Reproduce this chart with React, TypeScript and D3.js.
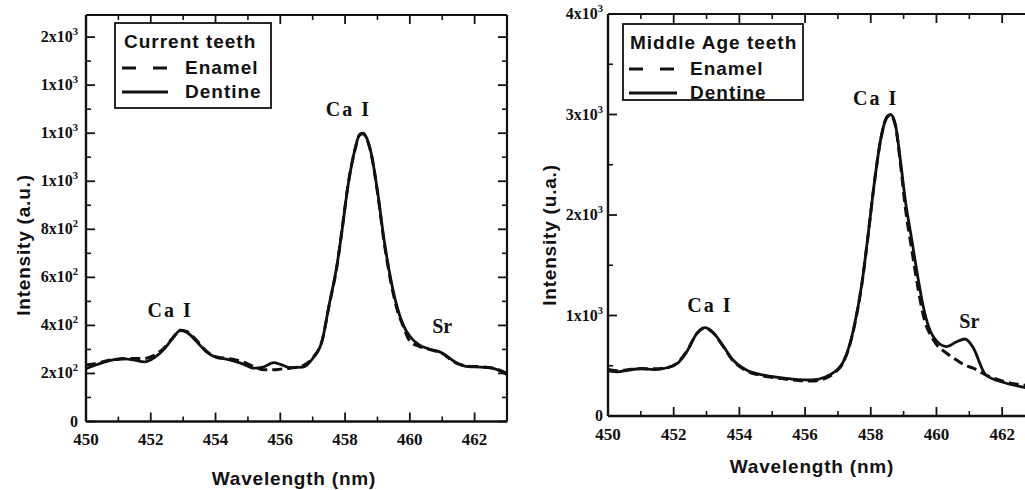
import React from "react";
import * as d3 from "d3";

// ---------- DATA ----------
// Left panel: Current teeth
const leftWl = [450.0, 450.3, 450.7, 451.1, 451.5, 451.8, 452.1, 452.4, 452.7, 452.9, 453.1, 453.4, 453.7, 454.0, 454.4, 454.8, 455.2, 455.5, 455.8, 456.0, 456.3, 456.7, 457.0, 457.3, 457.5, 457.75, 457.9, 458.1, 458.3, 458.45, 458.55, 458.65, 458.8, 459.0, 459.2, 459.4, 459.6, 459.8, 460.0, 460.3, 460.6, 461.0, 461.4, 461.8, 462.2, 462.6, 463.0];
const leftDentine = [220, 235, 252, 262, 255, 248, 265, 300, 350, 378, 372, 335, 292, 268, 258, 242, 222, 228, 245, 238, 224, 226, 262, 340, 480, 650, 790, 990, 1130, 1195, 1200, 1185, 1120, 960, 760, 600, 480, 400, 355, 318, 302, 285, 248, 228, 226, 220, 195];
const leftEnamel = [235, 240, 255, 260, 262, 262, 275, 305, 352, 380, 375, 340, 295, 270, 262, 250, 228, 215, 215, 218, 222, 232, 265, 342, 478, 648, 792, 992, 1128, 1192, 1198, 1182, 1118, 955, 752, 590, 470, 395, 335, 312, 300, 283, 245, 230, 228, 222, 200];

// Right panel: Middle Age teeth
const rightWl = [450.0, 450.3, 450.6, 451.0, 451.4, 451.8, 452.1, 452.4, 452.7, 452.95, 453.2, 453.5, 453.8, 454.2, 454.7, 455.3, 455.8, 456.2, 456.6, 456.9, 457.15, 457.35, 457.5, 457.73, 457.9, 458.1, 458.3, 458.5, 458.6, 458.75, 458.9, 459.05, 459.25, 459.45, 459.6, 459.9, 460.3, 460.6, 460.87, 461.1, 461.5, 462.1, 462.6, 463.0];
const rightDentine = [450, 440, 455, 470, 462, 480, 520, 640, 820, 880, 830, 700, 560, 460, 410, 380, 362, 358, 385, 440, 530, 700, 900, 1320, 1750, 2300, 2750, 2980, 3000, 2900, 2550, 2150, 1750, 1350, 1085, 790, 690, 736, 766, 690, 410, 328, 290, 265];
const rightEnamel = [462, 450, 460, 472, 470, 482, 525, 645, 818, 878, 828, 695, 552, 452, 400, 372, 352, 348, 372, 430, 525, 695, 895, 1315, 1745, 2295, 2745, 2975, 2995, 2890, 2520, 2080, 1650, 1250, 1000, 760, 627, 560, 505, 478, 408, 340, 310, 300];

// Axis ticks and labels
const xMajorTicks = [450, 452, 454, 456, 458, 460, 462];
const xMinorTicks = [451, 453, 455, 457, 459, 461, 463];
const leftYTicks = [0, 200, 400, 600, 800, 1000, 1200, 1400, 1600];
const leftYTickLabels = ["0", "2x10^2", "4x10^2", "6x10^2", "8x10^2", "1x10^3", "1x10^3", "1x10^3", "2x10^3"];
const leftYMinor = [100, 300, 500, 700, 900, 1100, 1300, 1500];
const rightYTicks = [0, 1000, 2000, 3000, 4000];
const rightYTickLabels = ["0", "1x10^3", "2x10^3", "3x10^3", "4x10^3"];
const rightYMinor = [500, 1500, 2500, 3500];

const legendTitles = ["Current teeth", "Middle Age teeth"];
const seriesNames = ["Enamel", "Dentine"];
const yTitles = ["Intensity (a.u.)", "Intensity (u.a.)"];
const xTitle = "Wavelength (nm)";

// peak annotations: [wavelength position, value position, text]
const leftPeakLabels: [number, number, string][] = [
  [452.6, 435, "Ca I"],
  [458.1, 1270, "Ca I"],
  [461.0, 370, "Sr"],
];
const rightPeakLabels: [number, number, string][] = [
  [453.1, 1030, "Ca I"],
  [458.15, 3090, "Ca I"],
  [461.0, 880, "Sr"],
];

const SERIF = "'Liberation Serif', 'Times New Roman', serif";
const SANS = "'Liberation Sans', Arial, Helvetica, sans-serif";

function TickLabel({ x, y, label, anchor, size, weight }: any) {
  const parts = label.split("^");
  return (
    <text x={x} y={y} textAnchor={anchor} fontFamily={SERIF} fontSize={size} fontWeight={weight} fill="#111">
      {parts[0]}
      {parts[1] ? (
        <tspan dy={-7} fontSize={size * 0.66}>
          {parts[1]}
        </tspan>
      ) : null}
    </text>
  );
}

function Panel(props: any) {
  const {
    id, x0, x1, yTop, yBot, yMax, wl, dentine, enamel, yTicks, yLabels, yMinor,
    legend, peaks, yTitle, yTitlePos, xTitlePos, xLabelBase, yLabelRight, showRight,
  } = props;
  const x = d3.scaleLinear().domain([450, 463]).range([x0, x1]);
  const y = d3.scaleLinear().domain([0, yMax]).range([yBot, yTop]);
  const line = d3
    .line<[number, number]>()
    .x((d) => x(d[0]))
    .y((d) => y(d[1]))
    .curve(d3.curveMonotoneX);
  const dPath = line(wl.map((w: number, i: number) => [w, dentine[i]]) as any) || "";
  const ePath = line(wl.map((w: number, i: number) => [w, enamel[i]]) as any) || "";
  const MAJ = 9, MIN = 5;
  return (
    <g>
      <defs>
        <clipPath id={"clip" + id}>
          <rect x={x0} y={yTop} width={x1 - x0} height={yBot - yTop} />
        </clipPath>
      </defs>
      <g clipPath={`url(#clip${id})`}>
        <path d={ePath} fill="none" stroke="#111" strokeWidth={3} strokeDasharray="10,5" />
        <path d={dPath} fill="none" stroke="#111" strokeWidth={2.8} />
      </g>
      {/* frame */}
      <line x1={x0} x2={x1} y1={yBot} y2={yBot} stroke="#111" strokeWidth={2.4} />
      <line x1={x0} x2={x1} y1={yTop} y2={yTop} stroke="#111" strokeWidth={2.2} />
      <line x1={x0} x2={x0} y1={yTop} y2={yBot} stroke="#111" strokeWidth={2.4} />
      {showRight && <line x1={x1} x2={x1} y1={yTop} y2={yBot} stroke="#111" strokeWidth={2.2} />}
      {/* x ticks */}
      {xMajorTicks.map((t) => (
        <g key={"xm" + t}>
          <line x1={x(t)} x2={x(t)} y1={yBot} y2={yBot - MAJ} stroke="#111" strokeWidth={1.8} />
          <line x1={x(t)} x2={x(t)} y1={yTop} y2={yTop + MAJ} stroke="#111" strokeWidth={1.8} />
          <TickLabel x={x(t)} y={xLabelBase} label={String(t)} anchor="middle" size={17} weight="bold" />
        </g>
      ))}
      {xMinorTicks.map((t) => (
        <g key={"xn" + t}>
          <line x1={x(t)} x2={x(t)} y1={yBot} y2={yBot - MIN} stroke="#111" strokeWidth={1.6} />
          <line x1={x(t)} x2={x(t)} y1={yTop} y2={yTop + MIN} stroke="#111" strokeWidth={1.6} />
        </g>
      ))}
      {/* y ticks */}
      {yTicks.map((t: number, i: number) => (
        <g key={"ym" + t}>
          <line x1={x0} x2={x0 + MAJ} y1={y(t)} y2={y(t)} stroke="#111" strokeWidth={1.8} />
          {showRight && <line x1={x1} x2={x1 - MAJ} y1={y(t)} y2={y(t)} stroke="#111" strokeWidth={1.8} />}
          <TickLabel x={yLabelRight} y={y(t) + 5} label={yLabels[i]} anchor="end" size={16} weight="bold" />
        </g>
      ))}
      {yMinor.map((t: number) => (
        <g key={"yn" + t}>
          <line x1={x0} x2={x0 + MIN} y1={y(t)} y2={y(t)} stroke="#111" strokeWidth={1.6} />
          {showRight && <line x1={x1} x2={x1 - MIN} y1={y(t)} y2={y(t)} stroke="#111" strokeWidth={1.6} />}
        </g>
      ))}
      {/* titles */}
      <text x={xTitlePos[0]} y={xTitlePos[1]} textAnchor="middle" fontFamily={SANS} fontWeight="bold" fontSize={19} letterSpacing={0.8} fill="#111">
        {xTitle}
      </text>
      <text
        transform={`translate(${yTitlePos[0]},${yTitlePos[1]}) rotate(-90)`}
        textAnchor="middle"
        fontFamily={SANS}
        fontWeight="bold"
        fontSize={19}
        letterSpacing={0.8}
        fill="#111"
      >
        {yTitle}
      </text>
      {/* peak labels */}
      {peaks.map((p: [number, number, string], i: number) => (
        <text key={"pk" + i} x={x(p[0])} y={y(p[1])} textAnchor="middle" fontFamily={SERIF} fontWeight="bold" fontSize={20} letterSpacing={p[2].length > 2 ? 2 : 0} fill="#111">
          {p[2]}
        </text>
      ))}
      {/* legend */}
      <rect x={legend.x} y={legend.y} width={legend.w} height={legend.h} fill="white" stroke="#111" strokeWidth={1.8} />
      <text x={legend.tx} y={legend.y + 25} fontFamily={SANS} fontWeight="bold" fontSize={19} letterSpacing={1} fill="#111">
        {legend.title}
      </text>
      <line x1={legend.lx0} x2={legend.lx1} y1={legend.y + 45} y2={legend.y + 45} stroke="#111" strokeWidth={3} strokeDasharray="14,17" />
      <text x={legend.nx} y={legend.y + 51} fontFamily={SANS} fontWeight="bold" fontSize={19} letterSpacing={1} fill="#111">
        {seriesNames[0]}
      </text>
      <line x1={legend.lx0} x2={legend.lx1} y1={legend.y + 69} y2={legend.y + 69} stroke="#111" strokeWidth={2.8} />
      <text x={legend.nx} y={legend.y + 75} fontFamily={SANS} fontWeight="bold" fontSize={19} letterSpacing={1} fill="#111">
        {seriesNames[1]}
      </text>
    </g>
  );
}

export default function App() {
  return (
    <svg width={1025} height={490} style={{ position: "absolute", left: 0, top: 0, background: "white" }}>
      <rect x={0} y={0} width={1025} height={490} fill="white" />
      <Panel
        id="L"
        x0={86}
        x1={507}
        yTop={15}
        yBot={421.5}
        yMax={1692}
        wl={leftWl}
        dentine={leftDentine}
        enamel={leftEnamel}
        yTicks={leftYTicks}
        yLabels={leftYTickLabels}
        yMinor={leftYMinor}
        legend={{ x: 115, y: 23, w: 156, h: 85, tx: 124, title: legendTitles[0], lx0: 122, lx1: 168, nx: 185 }}
        peaks={leftPeakLabels}
        yTitle={yTitles[0]}
        yTitlePos={[30, 245]}
        xTitlePos={[294, 485]}
        xLabelBase={445}
        yLabelRight={78}
        showRight={true}
      />
      <Panel
        id="R"
        x0={608}
        x1={1035}
        yTop={14}
        yBot={416}
        yMax={4000}
        wl={rightWl}
        dentine={rightDentine}
        enamel={rightEnamel}
        yTicks={rightYTicks}
        yLabels={rightYTickLabels}
        yMinor={rightYMinor}
        legend={{ x: 623, y: 24, w: 180, h: 76, tx: 630, title: legendTitles[1], lx0: 629, lx1: 677, nx: 690 }}
        peaks={rightPeakLabels}
        yTitle={yTitles[1]}
        yTitlePos={[556, 235]}
        xTitlePos={[812, 473]}
        xLabelBase={440}
        yLabelRight={603}
        showRight={false}
      />
    </svg>
  );
}
